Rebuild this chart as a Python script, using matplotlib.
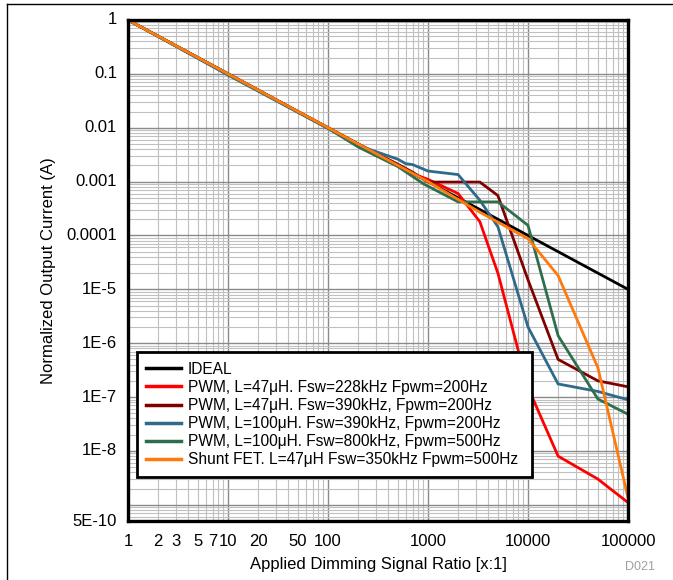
import numpy as np
import matplotlib
matplotlib.use("Agg")
import matplotlib.pyplot as plt
from matplotlib.ticker import LogLocator, FuncFormatter, NullFormatter

plt.rcParams["font.family"] = ["Liberation Sans", "DejaVu Sans"]

# values (x = dimming ratio, y = normalized current)
ideal_x = [1, 100000]
ideal_y = [1, 1e-5]

red_x = [1, 10, 100, 200, 500, 700, 1000, 2000, 3300, 5000, 10000, 20000, 50000, 100000]
red_y = [1, 0.1, 0.0098, 0.0049, 0.002, 0.0014, 0.0011, 0.0006, 0.00018, 2e-5, 1.5e-7, 8e-9, 3e-9, 1.1e-9]

dred_x = [1, 10, 100, 200, 500, 700, 1000, 2000, 3300, 5000, 10000, 20000, 50000, 100000]
dred_y = [1, 0.1, 0.01, 0.005, 0.0021, 0.0015, 0.00098, 0.00098, 0.00098, 0.00055, 1.5e-5, 5e-7, 2e-7, 1.55e-7]

blue_x = [1, 10, 100, 200, 500, 600, 700, 1000, 2000, 3300, 5000, 10000, 20000, 50000, 100000]
blue_y = [1, 0.095, 0.0097, 0.0047, 0.0026, 0.00215, 0.00207, 0.00157, 0.00135, 0.00045, 0.000145,
          2e-6, 1.75e-7, 1.27e-7, 8.9e-8]

green_x = [1, 10, 100, 200, 500, 900, 2000, 5000, 10000, 20000, 50000, 100000]
green_y = [1, 0.1, 0.0098, 0.0044, 0.0019, 0.00091, 0.00042, 0.00042, 0.000154, 1.38e-6, 9.2e-8, 4.8e-8]

orange_x = [1, 10, 100, 1000, 3300, 10000, 20000, 50000, 100000]
orange_y = [1, 0.1, 0.01, 0.001, 0.00027, 8.7e-5, 1.8e-5, 3.5e-7, 1.35e-9]

labels = ["IDEAL",
          "PWM, L=47μH. Fsw=228kHz Fpwm=200Hz",
          "PWM, L=47μH. Fsw=390kHz, Fpwm=200Hz",
          "PWM, L=100μH. Fsw=390kHz, Fpwm=200Hz",
          "PWM, L=100μH. Fsw=800kHz, Fpwm=500Hz",
          "Shunt FET. L=47μH Fsw=350kHz Fpwm=500Hz"]
colors = ["#000000", "#ff0000", "#800000", "#2f6a8a", "#2e6e4c", "#ff7a0a"]

ytick_vals = [1, 0.1, 0.01, 0.001, 0.0001, 1e-5, 1e-6, 1e-7, 1e-8, 5e-10]
ytick_labels = ["1", "0.1", "0.01", "0.001", "0.0001", "1E-5", "1E-6", "1E-7", "1E-8", "5E-10"]
xtick_labelled = [1, 2, 3, 5, 7, 10, 20, 50, 100, 1000, 10000, 100000]

fig = plt.figure(figsize=(6.73, 5.8), dpi=100)
ax = fig.add_axes([128/673, 1 - 521/580, 500/673, 501/580])

series = [(ideal_x, ideal_y), (red_x, red_y), (dred_x, dred_y),
          (blue_x, blue_y), (green_x, green_y), (orange_x, orange_y)]
for (xs, ys), c, lab in zip(series, colors, labels):
    ax.plot(xs, ys, color=c, lw=2.0, label=lab, solid_joinstyle="miter")

ax.set_xscale("log"); ax.set_yscale("log")
ax.set_xlim(1, 100000); ax.set_ylim(5e-10, 1)

# grid: every 1..9 per decade
ax.xaxis.set_major_locator(LogLocator(base=10, numticks=20))
ax.xaxis.set_minor_locator(LogLocator(base=10, subs=np.arange(2, 10), numticks=50))
ax.yaxis.set_major_locator(LogLocator(base=10, numticks=20))
ax.yaxis.set_minor_locator(LogLocator(base=10, subs=np.arange(2, 10), numticks=50))
ax.grid(True, which="major", color="#8a8a8a", lw=1.0)
ax.grid(True, which="minor", color="#c0c0c0", lw=0.8)
ax.set_axisbelow(True)

ax.xaxis.set_major_formatter(FuncFormatter(lambda v, p: f"{v:g}" if v in xtick_labelled else ""))
ax.xaxis.set_minor_formatter(FuncFormatter(lambda v, p: f"{int(round(v))}" if int(round(v)) in xtick_labelled else ""))
ax.yaxis.set_major_formatter(NullFormatter())
ax.yaxis.set_minor_formatter(NullFormatter())
for v, s in zip(ytick_vals, ytick_labels):
    ax.text(-0.022, v, s, transform=ax.get_yaxis_transform(), ha="right", va="center", fontsize=12)

ax.tick_params(which="both", length=0, labelsize=12)
ax.tick_params(axis="x", which="both", pad=9)

for s in ax.spines.values():
    s.set_linewidth(2.4)

ax.set_xlabel("Applied Dimming Signal Ratio [x:1]", fontsize=12, labelpad=6)
ax.set_ylabel("Normalized Output Current (A)", fontsize=12, labelpad=48)

leg = ax.legend(loc="lower left", bbox_to_anchor=(0.0174, 0.0884, 0.79, 0.248), mode="expand",
                fontsize=11.2, frameon=True, fancybox=False, framealpha=1,
                handlelength=2.25, handletextpad=0.45, labelspacing=0.2, borderpad=0.6,
                borderaxespad=0)
leg.get_frame().set_edgecolor("black")
leg.get_frame().set_linewidth(2.0)
for h in leg.get_lines():
    h.set_linewidth(2.5)

# outer frame (top and left edges) and figure id
fig.add_artist(plt.Line2D([7/673, 1], [1 - 4/580, 1 - 4/580], color="black", lw=1.0, transform=fig.transFigure))
fig.add_artist(plt.Line2D([7/673, 7/673], [0, 1 - 4/580], color="black", lw=1.0, transform=fig.transFigure))
fig.text(640/673, 1 - 567/580, "D021", color="#a0a0a0", fontsize=9, ha="center", va="center")

fig.savefig("out.png", dpi=100)
